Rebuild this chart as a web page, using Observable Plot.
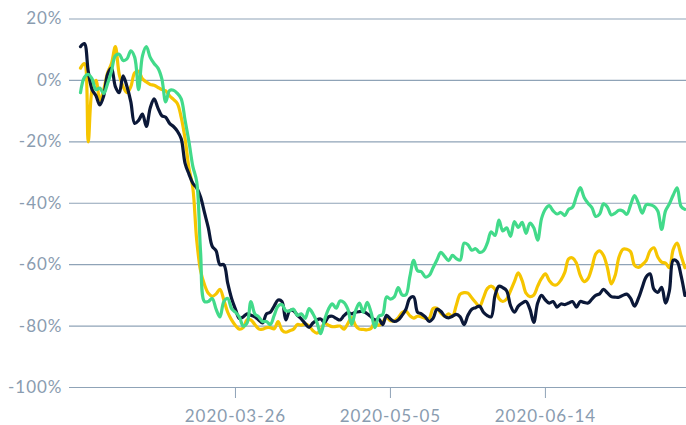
<!DOCTYPE html>
<html>
<head>
<meta charset="utf-8">
<script src="https://cdn.jsdelivr.net/npm/d3@7"></script>
<script src="https://cdn.jsdelivr.net/npm/@observablehq/plot@0.6"></script>
<style>
  html, body { margin: 0; padding: 0; background: #ffffff; }
  #chart { width: 686px; height: 425px; }
</style>
</head>
<body>
<div id="chart"></div>
<script>
// First day of the daily series
const startDate = "2020-02-15";

// Daily values (percent change), one per day starting at startDate
const navySeries = [
  11, 12, 3, -3, -5, -8, -5, 2, 4, -2,
  -4, 1.5, -2, -7, -14, -13, -11, -15, -9, -6,
  -9, -11.5, -12, -14, -15, -16.5, -19, -27, -30.5, -33.5,
  -35, -38, -43, -48, -54, -55.5, -60, -60, -66, -71,
  -74.5, -77.5, -77, -76, -76.5, -77, -78, -79, -76, -75.5,
  -73.5, -71.5, -72, -78, -75, -75, -76.5, -77.7, -79.2, -80.4,
  -79, -78, -77.7, -78.8, -77, -76.8, -77.5, -78, -76.6, -75.6,
  -76, -75.5, -75.3, -75.2, -76, -77, -78, -77.7, -79.5, -76.5,
  -77.7, -78.5, -78, -76.5, -74.5, -71, -70.5, -75.5, -76, -77,
  -78.5, -77.5, -74.5, -75.2, -76.8, -77.3, -76.8, -76.2, -77, -79.5,
  -76.5, -74.5, -74, -73.5, -75.5, -76.6, -77, -70, -67, -67.5,
  -68.5, -73.3, -75.5, -73.5, -72.5, -72, -74.5, -78.8, -72.5, -70,
  -71.5, -72.5, -72, -73.8, -72.8, -73, -72.5, -72, -73.8, -72,
  -72.3, -72.5, -71.2, -70, -69.5, -68, -69.2, -70.4, -70.6, -70.6,
  -70, -69.6, -71, -73.5, -71, -67.4, -64, -63, -68, -69,
  -67.4, -72.5, -68.5, -58.5, -59, -63.5, -70
];

const yellowSeries = [
  4, 5.5, -20, -3, 0, -6.5, -3, 2.5, 5.5, 11,
  2, -2, -4, -2, 2.5, 3, 0.5, -0.5, -1.3, -1.6,
  -2.3, -3, -3.4, -5, -6.2, -7.5, -12, -19, -28.5, -35,
  -52, -62, -66.5, -69.3, -70.3, -69.5, -68, -71.5, -75.5, -78,
  -79.8, -81, -80.5, -78, -78, -79.5, -80.9, -81, -80.5, -80.5,
  -80.9, -78.5, -81.3, -82, -81.5, -81, -79.5, -79.7, -79.3, -80,
  -81.5, -82.3, -81.4, -79, -79.7, -80.2, -80.1, -80, -81, -79.2,
  -77.2, -79.8, -81, -81.1, -81.2, -80.8, -78.6, -79.8, -78.7, -77.1,
  -78.3, -78.3, -77.3, -75.6, -75.1, -76.6, -77.4, -76.8, -77, -77.5,
  -77.5, -74.3, -74.2, -75.8, -76.8, -76, -76.8, -73.2, -69.6, -69.1,
  -69.3, -70.8, -72.3, -73.7, -70.8, -67.8, -67, -68, -71, -72,
  -71.2, -68.5, -65.5, -62.7, -65.2, -69.3, -70.4, -69.9, -67, -64.5,
  -63, -65.2, -66.5, -66.5, -65, -62.5, -58.1, -57.8, -59.5, -63.5,
  -65.5, -64.5, -61, -56.5, -55.5, -57, -61, -66.3, -63.5, -57.5,
  -55, -55, -55.8, -60.2, -60.9, -60, -58.7, -55.5, -54.5, -57.5,
  -59.2, -59.5, -61, -55, -53, -57, -61
];

const greenSeries = [
  -4, 1, 2, 0.5, -3, -2.5, -4.3, -1, 3, 8,
  8.5, 6.5, 7, 9.6, 7.5, -3, 8, 11, 7.5, 5.5,
  4, 0.5, -7, -3.3, -3.2, -4.2, -6, -13, -20, -28,
  -33, -56, -72, -72, -71, -74.5, -77, -72, -71, -74.3,
  -75.5, -77, -80, -79, -72, -76, -77, -78.5, -78.5, -79.5,
  -76.5, -73.5, -73, -75, -75, -74.5, -76.5, -76, -77.5, -74.3,
  -76, -78.7, -82.5, -78, -74.5, -72.8, -74.2, -71.8, -72.3, -74.5,
  -79.5, -75, -72.5, -75.5, -72.3, -75.5, -80.5, -76.8, -76.2, -70.5,
  -71.2, -70.5, -67.5, -69.8, -69.8, -64, -58.6, -62, -62.3, -64,
  -63.5, -61, -58.5, -56, -57.3, -58.7, -57, -58, -58.5, -53,
  -53.5, -55.3, -54.8, -56, -55.5, -53, -49.3, -50.5, -45.5, -49,
  -48, -50.8, -46, -47.9, -46.2, -49.8, -46.5, -48, -52, -45,
  -41.9, -40.8, -42.5, -43.5, -43, -44, -42, -41.3, -37.8, -34.9,
  -38.1, -40, -41.4, -44.3, -43.5, -40.2, -41.2, -43.8, -43.2, -42.3,
  -42.5, -43.6, -40.5, -37.5, -40, -43.2, -40.5, -40.5, -41, -42.5,
  -48.5, -42.5, -40.2, -37.3, -35, -41, -42
];

// Axis tick values
const yTicks = [-100, -80, -60, -40, -20, 0, 20];
const xTickLabels = ["2020-03-26", "2020-05-05", "2020-06-14"];
const xDomainLabels = ["2020-02-12T04:00", "2020-07-20T10:00"];

const parseDay = d3.utcParse("%Y-%m-%d");
const parseDT = d3.utcParse("%Y-%m-%dT%H:%M");
const start = parseDay(startDate);

function toRows(values, series) {
  return values.map((v, i) => ({date: d3.utcDay.offset(start, i), value: v, series}));
}

const rows = [
  ...toRows(yellowSeries, "yellow"),
  ...toRows(navySeries, "navy"),
  ...toRows(greenSeries, "green")
];

const colors = {navy: "#0b1838", yellow: "#f6c500", green: "#42da8a"};
const gridColor = "#8fa3b7";

const chart = Plot.plot({
  width: 686,
  height: 425,
  marginLeft: 69,
  marginRight: 0,
  marginTop: 18.5,
  marginBottom: 38,
  style: {fontFamily: "Lato, sans-serif", fontSize: "17px", color: "#8a9cb0", background: "#ffffff", letterSpacing: "1px"},
  x: {type: "utc", domain: xDomainLabels.map(parseDT)},
  y: {domain: [-100, 20]},
  marks: [
    Plot.ruleY(yTicks, {stroke: gridColor, strokeWidth: 1.2}),
    Plot.axisY({ticks: yTicks, tickSize: 0, tickPadding: 7, tickFormat: d => d + "%", label: null}),
    Plot.axisX({ticks: xTickLabels.map(parseDay), tickSize: 11, tickPadding: 11, stroke: gridColor, tickFormat: d3.utcFormat("%Y-%m-%d"), label: null}),
    ...["yellow", "navy", "green"].map(s =>
      Plot.line(rows.filter(r => r.series === s), {
        x: "date", y: "value", stroke: colors[s], strokeWidth: 3.2,
        curve: "catmull-rom",
        strokeLinejoin: "round", strokeLinecap: "round"
      })
    )
  ]
});

document.getElementById("chart").appendChild(chart);
</script>
</body>
</html>
